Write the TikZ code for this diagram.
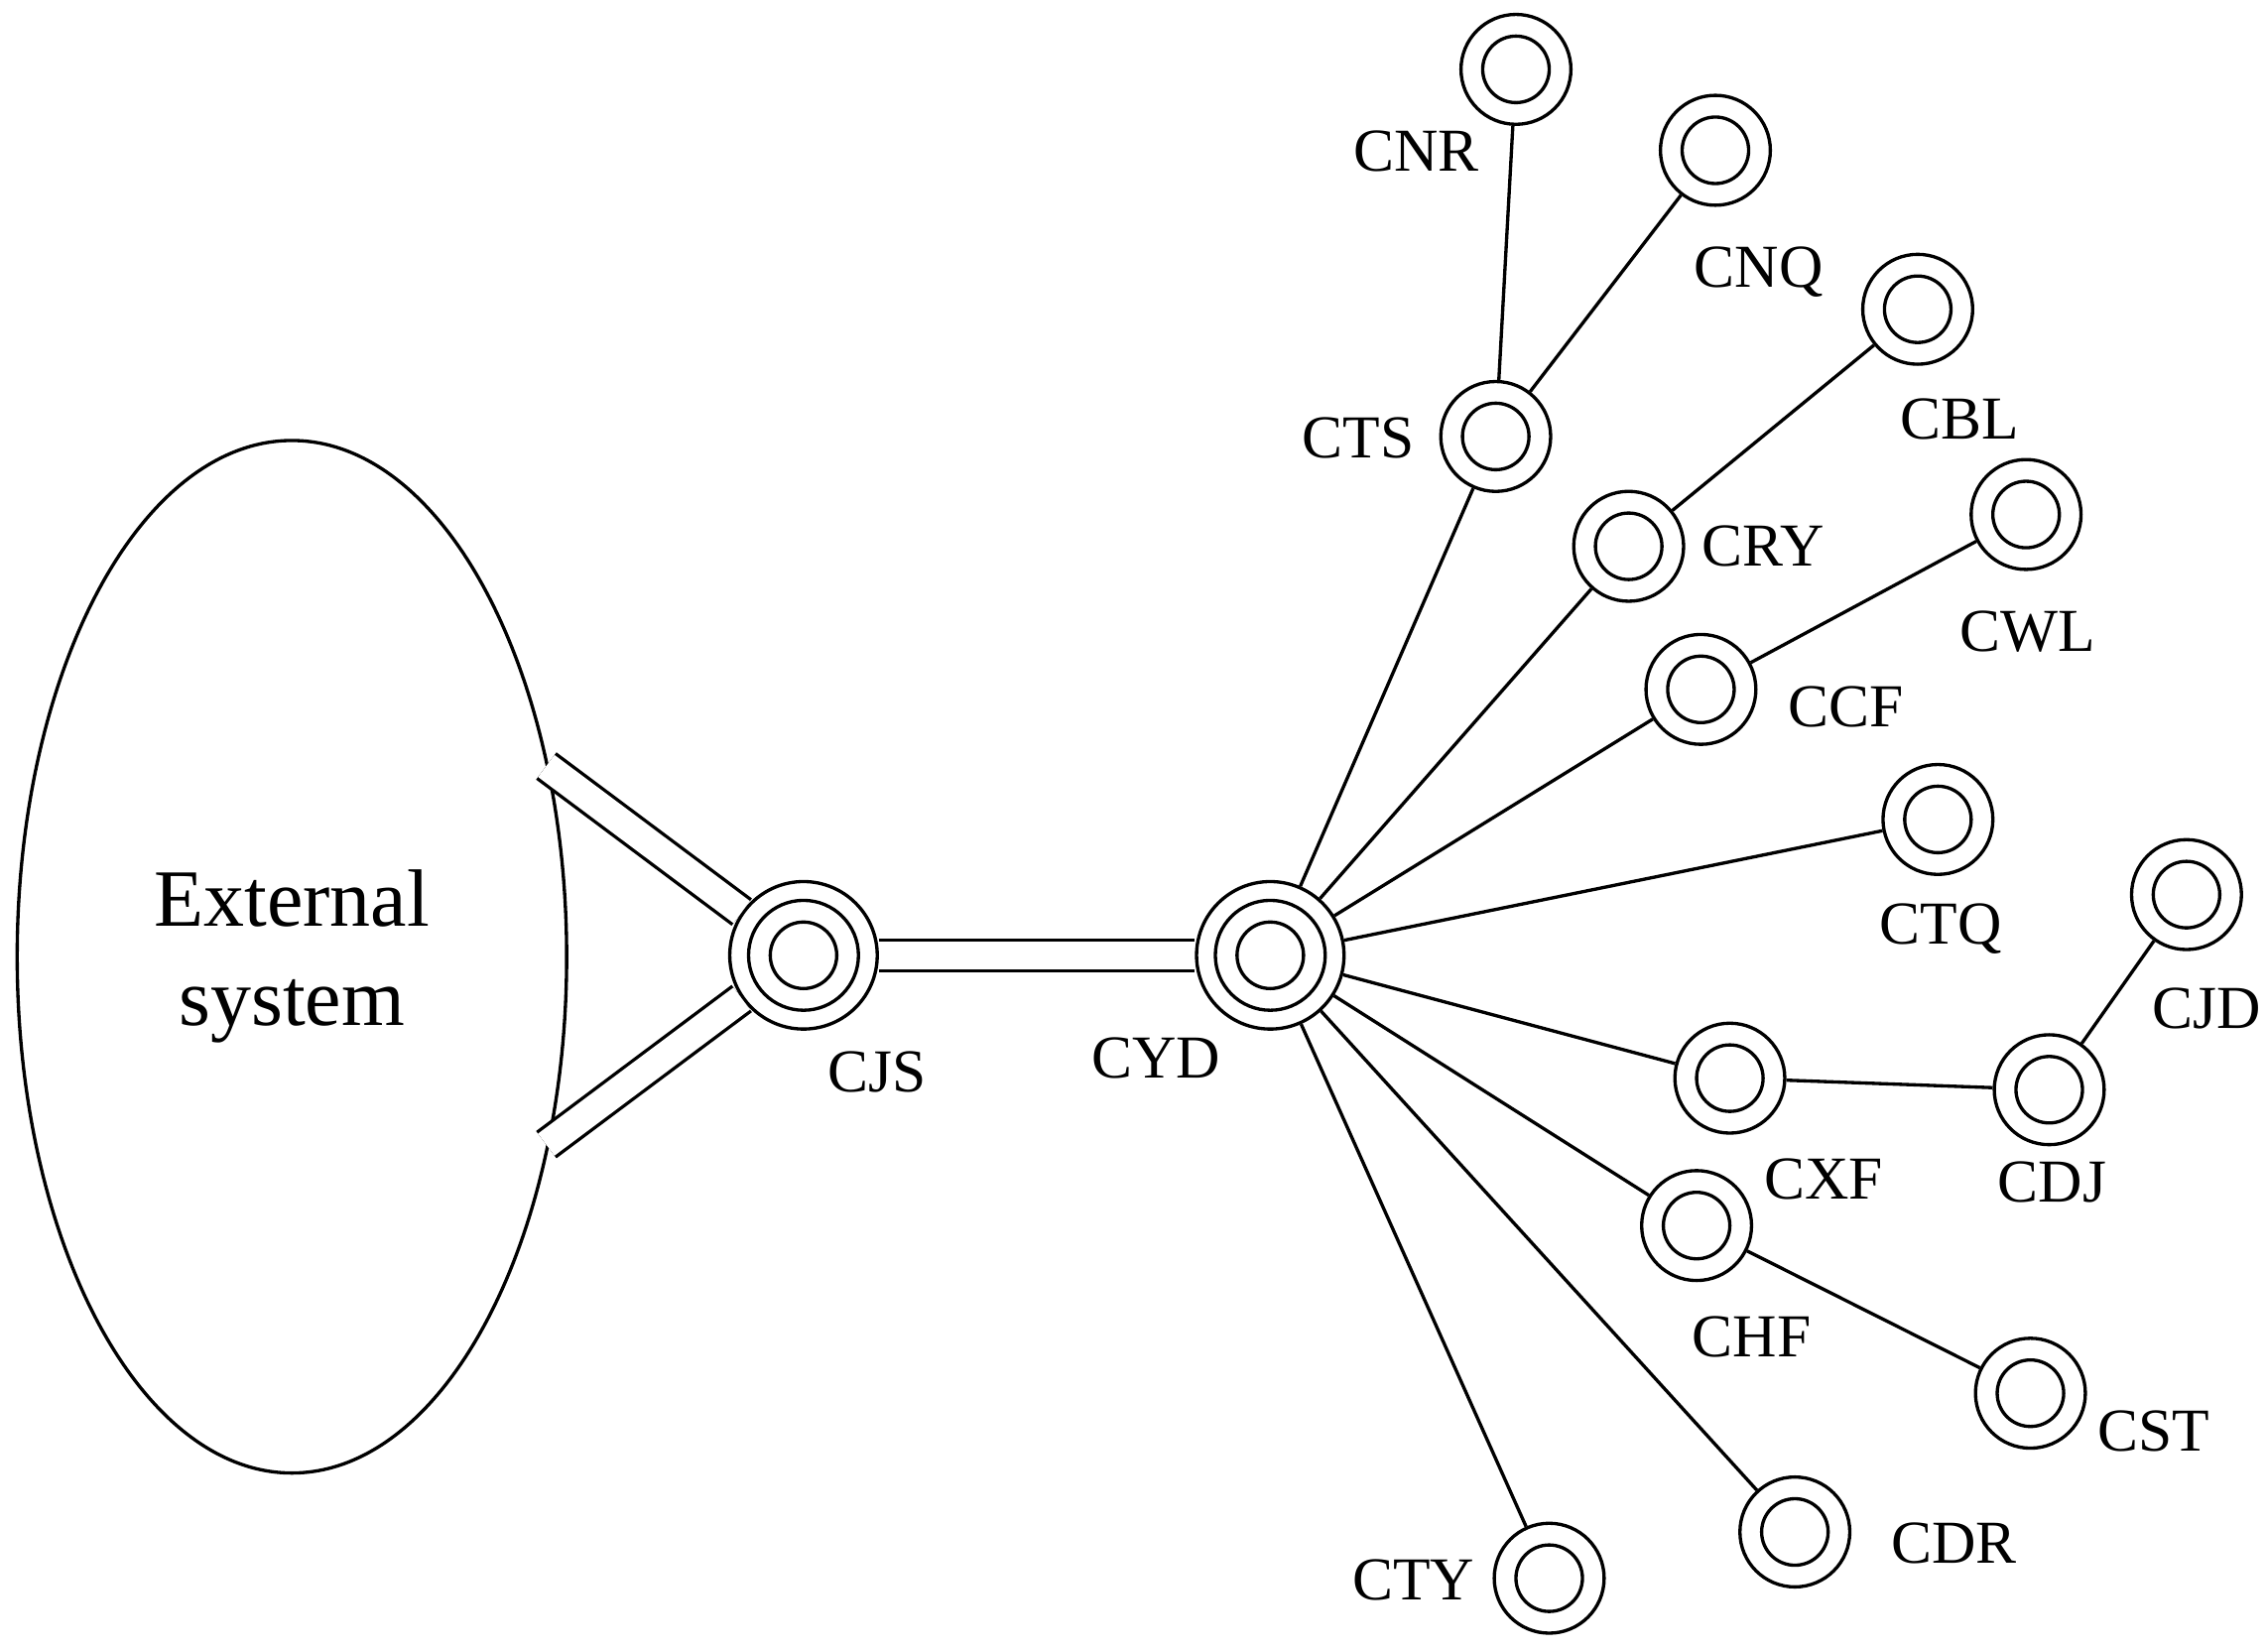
\documentclass[tikz,border=0pt]{standalone}
\usepackage{fontspec}
\usetikzlibrary{shapes.geometric}
\setmainfont{Liberation Serif}
\begin{document}
\begin{tikzpicture}[x=0.01cm,y=-0.01cm,line width=0.65pt,
 st/.style={circle,draw,inner sep=0,minimum size=0.76cm,
  path picture={\draw (path picture bounding box.center) circle (0.23cm);}},
 big/.style={circle,draw,inner sep=0,minimum size=1.02cm,
  path picture={\draw (path picture bounding box.center) circle (0.38cm);
   \draw (path picture bounding box.center) circle (0.23cm);}},
 lb/.style={font=\fontsize{12pt}{14pt}\selectfont,inner sep=0},
 dbl/.style={double,double distance=0.19cm}]
\useasboundingbox (0,0) rectangle (1568,1143);
\node[ellipse,draw,minimum width=3.8cm,minimum height=7.14cm,inner sep=0,align=center,font=\fontsize{16pt}{19.5pt}\selectfont] (ext) at (202,662) {External\\system};
\node[big] (cjs) at (556,661) {};
\node[big] (cyd) at (879,661) {};
\node[st] (cnr) at (1049,48) {};
\node[st] (cnq) at (1187,104) {};
\node[st] (cbl) at (1327,214) {};
\node[st] (cts) at (1035,302) {};
\node[st] (cry) at (1127,378) {};
\node[st] (cwl) at (1402,356) {};
\node[st] (ccf) at (1177,477) {};
\node[st] (ctq) at (1341,567) {};
\node[st] (cjd) at (1513,619) {};
\node[st] (cxf) at (1197,746) {};
\node[st] (cdj) at (1418,754) {};
\node[st] (chf) at (1174,848) {};
\node[st] (cst) at (1405,964) {};
\node[st] (cdr) at (1242,1060) {};
\node[st] (cty) at (1072,1092) {};
\coordinate (e1) at (378,530);
\coordinate (e2) at (378,792);
\draw[dbl] (e1) -- (cjs.145);
\draw[dbl] (e2) -- (cjs.-145);
\draw[dbl] (cjs) -- (cyd);
\foreach \a/\b in {cnr/cts,cnq/cts,cts/cyd,cbl/cry,cry/cyd,cwl/ccf,ccf/cyd,ctq/cyd,cxf/cyd,cxf/cdj,cdj/cjd,chf/cyd,chf/cst,cdr/cyd,cty/cyd}
 \draw (\a) -- (\b);
\node[lb] (l1) at (980,105) {CNR};
\node[lb] (l2) at (1217,188) {CNQ};
\node[lb] (l3) at (1356,290) {CBL};
\node[lb] (l4) at (940,303) {CTS};
\node[lb] (l5) at (1220,378) {CRY};
\node[lb] (l6) at (1403,437) {CWL};
\node[lb] (l7) at (1277,489) {CCF};
\node[lb] (l8) at (1343,643) {CTQ};
\node[lb] (l9) at (1527,698) {CJD};
\node[lb] (l10) at (1262,816) {CXF};
\node[lb] (l11) at (1420,818) {CDJ};
\node[lb] (l12) at (1212,925) {CHF};
\node[lb] (l13) at (1490,990) {CST};
\node[lb] (l14) at (1352,1068) {CDR};
\node[lb] (l15) at (978,1093) {CTY};
\node[lb] (l16) at (607,742) {CJS};
\node[lb] (l17) at (800,732) {CYD};
\end{tikzpicture}
\end{document}
